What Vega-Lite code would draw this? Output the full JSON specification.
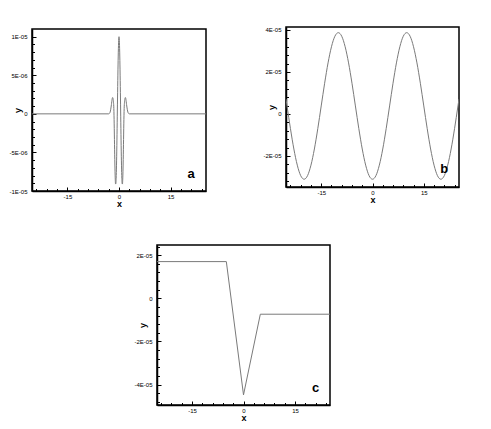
{
  "$schema": "https://vega.github.io/schema/vega-lite/v6.json",
  "padding": {"left": 8, "top": 26, "right": 5, "bottom": 5},
  "background": "white",
  "config": {
    "font": "Liberation Sans",
    "view": {"stroke": "black", "strokeWidth": 1.5},
    "axis": {"grid": false, "labelFont": "Liberation Sans", "labelFontSize": 6, "labelColor": "black", "tickColor": "black", "domainColor": "black", "domainWidth": 1.5, "tickWidth": 1, "titleFont": "Liberation Sans", "titleFontSize": 9, "titleFontWeight": "bold", "titleColor": "black"}
  },
  "datasets": {
    "ca": [
      {"x": -25.3, "y": 0}, {"x": -3.0, "y": 0}, {"x": -2.8, "y": 0.05e-6}, {"x": -2.6, "y": 0.2e-6}, {"x": -2.4, "y": 0.6e-6}, {"x": -2.2, "y": 1.2e-6}, {"x": -2.0, "y": 1.9e-6}, {"x": -1.9, "y": 2.1e-6}, {"x": -1.8, "y": 2.1e-6}, {"x": -1.7, "y": 1.9e-6}, {"x": -1.6, "y": 1.5e-6}, {"x": -1.5, "y": 0.7e-6}, {"x": -1.4, "y": -1.3e-6}, {"x": -1.3, "y": -4.0e-6}, {"x": -1.2, "y": -6.5e-6}, {"x": -1.1, "y": -8.3e-6}, {"x": -1.0, "y": -9.1e-6}, {"x": -0.9, "y": -9.0e-6}, {"x": -0.8, "y": -8.0e-6}, {"x": -0.7, "y": -6.1e-6}, {"x": -0.6, "y": -3.4e-6}, {"x": -0.5, "y": -0.3e-6}, {"x": -0.4, "y": 2.8e-6}, {"x": -0.3, "y": 5.7e-6}, {"x": -0.2, "y": 8.0e-6}, {"x": -0.1, "y": 9.5e-6}, {"x": 0, "y": 1.0e-5},
      {"x": 0.1, "y": 9.5e-6}, {"x": 0.2, "y": 8.0e-6}, {"x": 0.3, "y": 5.7e-6}, {"x": 0.4, "y": 2.8e-6}, {"x": 0.5, "y": -0.3e-6}, {"x": 0.6, "y": -3.4e-6}, {"x": 0.7, "y": -6.1e-6}, {"x": 0.8, "y": -8.0e-6}, {"x": 0.9, "y": -9.0e-6}, {"x": 1.0, "y": -9.1e-6}, {"x": 1.1, "y": -8.3e-6}, {"x": 1.2, "y": -6.5e-6}, {"x": 1.3, "y": -4.0e-6}, {"x": 1.4, "y": -1.3e-6}, {"x": 1.5, "y": 0.7e-6}, {"x": 1.6, "y": 1.5e-6}, {"x": 1.7, "y": 1.9e-6}, {"x": 1.8, "y": 2.1e-6}, {"x": 1.9, "y": 2.1e-6}, {"x": 2.0, "y": 1.9e-6}, {"x": 2.2, "y": 1.2e-6}, {"x": 2.4, "y": 0.6e-6}, {"x": 2.6, "y": 0.2e-6}, {"x": 2.8, "y": 0.05e-6}, {"x": 3.0, "y": 0}, {"x": 25.3, "y": 0}
    ],
    "cb": [
      {"x": -25.3, "y": 0.71e-5}, {"x": -25, "y": 0.38e-5}, {"x": -24, "y": -0.70e-5}, {"x": -23, "y": -1.67e-5}, {"x": -22, "y": -2.44e-5}, {"x": -21, "y": -2.94e-5}, {"x": -20, "y": -3.11e-5}, {"x": -19, "y": -2.94e-5}, {"x": -18, "y": -2.44e-5}, {"x": -17, "y": -1.67e-5}, {"x": -16, "y": -0.70e-5}, {"x": -15, "y": 0.38e-5}, {"x": -14, "y": 1.46e-5}, {"x": -13, "y": 2.43e-5}, {"x": -12, "y": 3.20e-5}, {"x": -11, "y": 3.70e-5}, {"x": -10, "y": 3.87e-5}, {"x": -9, "y": 3.70e-5}, {"x": -8, "y": 3.20e-5}, {"x": -7, "y": 2.43e-5}, {"x": -6, "y": 1.46e-5}, {"x": -5, "y": 0.38e-5}, {"x": -4, "y": -0.70e-5}, {"x": -3, "y": -1.67e-5}, {"x": -2, "y": -2.44e-5}, {"x": -1, "y": -2.94e-5}, {"x": 0, "y": -3.11e-5},
      {"x": 1, "y": -2.94e-5}, {"x": 2, "y": -2.44e-5}, {"x": 3, "y": -1.67e-5}, {"x": 4, "y": -0.70e-5}, {"x": 5, "y": 0.38e-5}, {"x": 6, "y": 1.46e-5}, {"x": 7, "y": 2.43e-5}, {"x": 8, "y": 3.20e-5}, {"x": 9, "y": 3.70e-5}, {"x": 10, "y": 3.87e-5}, {"x": 11, "y": 3.70e-5}, {"x": 12, "y": 3.20e-5}, {"x": 13, "y": 2.43e-5}, {"x": 14, "y": 1.46e-5}, {"x": 15, "y": 0.38e-5}, {"x": 16, "y": -0.70e-5}, {"x": 17, "y": -1.67e-5}, {"x": 18, "y": -2.44e-5}, {"x": 19, "y": -2.94e-5}, {"x": 20, "y": -3.11e-5}, {"x": 21, "y": -2.94e-5}, {"x": 22, "y": -2.44e-5}, {"x": 23, "y": -1.67e-5}, {"x": 24, "y": -0.70e-5}, {"x": 25, "y": 0.38e-5}, {"x": 25.3, "y": 0.71e-5}
    ],
    "cc": [
      {"x": -25.2, "y": 1.70e-5}, {"x": -5.0, "y": 1.70e-5}, {"x": 0, "y": -4.48e-5}, {"x": 4.9, "y": -0.74e-5}, {"x": 25.2, "y": -0.74e-5}
    ]
  },
  "spacing": 34,
  "vconcat": [
    {
      "spacing": 52,
      "hconcat": [
        {
          "spacing": 0,
          "vconcat": [
            {"width": 174, "height": 1, "data": {"values": [{"k": 1}]}, "mark": {"type": "text", "text": "", "fontSize": 1}, "view": {"stroke": null}},
            {
              "width": 174,
              "height": 162,
              "resolve": {"axis": {"x": "independent", "y": "independent"}},
              "layer": [
                {
                  "data": {"name": "ca"},
                  "mark": {"type": "line", "color": "#7a7a7a", "strokeWidth": 1, "interpolate": "monotone", "clip": true},
                  "encoding": {
                    "x": {"field": "x", "type": "quantitative", "scale": {"domain": [-25.3, 25.3], "nice": false, "zero": false},
                      "axis": {"values": [-15, 0, 15], "labelExpr": "datum.value < 0 ? '-15' : datum.value > 0 ? '15' : '0'", "title": "x", "tickSize": -4, "labelPadding": 6.5, "titlePadding": 0}},
                    "y": {"field": "y", "type": "quantitative", "scale": {"domain": [-1e-5, 1.1e-5], "nice": false, "zero": false},
                      "axis": {"values": [-1e-5, -5e-6, 0, 5e-6, 1e-5], "labelExpr": "datum.value == 0 ? '0' : datum.value > 0 ? (datum.value > 7e-6 ? '1E-05' : '5E-06') : (datum.value < -7e-6 ? '-1E-05' : '-5E-06')", "title": "y", "titleX": -15, "titleBaseline": "middle", "tickSize": -4, "labelPadding": 9}}
                  }
                },
                {
                  "data": {"values": [{"x": 21, "y": -7.8e-6, "t": "a"}]},
                  "mark": {"type": "text", "fontSize": 13, "fontWeight": "bold", "font": "Liberation Sans", "color": "black", "baseline": "middle", "align": "center"},
                  "encoding": {
                    "x": {"field": "x", "type": "quantitative", "axis": null},
                    "y": {"field": "y", "type": "quantitative", "axis": null},
                    "text": {"field": "t"}
                  }
                },
                {
                  "data": {"name": "ca"},
                  "mark": {"type": "point", "opacity": 0},
                  "encoding": {
                    "x": {"field": "x", "type": "quantitative", "axis": {"orient": "bottom", "values": [-24, -21, -18, -12, -9, -6, -3, 3, 6, 9, 12, 18, 21, 24], "labels": false, "domain": false, "title": null, "tickSize": -2.5}},
                    "y": {"field": "y", "type": "quantitative", "axis": {"orient": "left", "values": [-9e-6, -8e-6, -7e-6, -6e-6, -4e-6, -3e-6, -2e-6, -1e-6, 1e-6, 2e-6, 3e-6, 4e-6, 6e-6, 7e-6, 8e-6, 9e-6], "labels": false, "domain": false, "title": null, "tickSize": -2.5}}
                  }
                }
              ]
            }
          ]
        },
        {
          "width": 173,
          "height": 160,
          "resolve": {"axis": {"x": "independent", "y": "independent"}},
          "layer": [
            {
              "data": {"name": "cb"},
              "mark": {"type": "line", "color": "#7a7a7a", "strokeWidth": 1, "interpolate": "monotone", "clip": true},
              "encoding": {
                "x": {"field": "x", "type": "quantitative", "scale": {"domain": [-25.3, 25.3], "nice": false, "zero": false},
                  "axis": {"values": [-15, 0, 15], "labelExpr": "datum.value < 0 ? '-15' : datum.value > 0 ? '15' : '0'", "title": "x", "tickSize": -4, "labelPadding": 6.5, "titlePadding": 0}},
                "y": {"field": "y", "type": "quantitative", "scale": {"domain": [-3.48e-5, 4.14e-5], "nice": false, "zero": false},
                  "axis": {"values": [-2e-5, 0, 2e-5, 4e-5], "labelExpr": "datum.value == 0 ? '0' : datum.value < 0 ? '-2E-05' : datum.value > 3e-5 ? '4E-05' : '2E-05'", "title": "y", "titleX": -15, "titleBaseline": "middle", "tickSize": -4, "labelPadding": 9}}
              }
            },
            {
              "data": {"values": [{"x": 21, "y": -2.62e-5, "t": "b"}]},
              "mark": {"type": "text", "fontSize": 13, "fontWeight": "bold", "font": "Liberation Sans", "color": "black", "baseline": "middle", "align": "center"},
              "encoding": {
                "x": {"field": "x", "type": "quantitative", "axis": null},
                "y": {"field": "y", "type": "quantitative", "axis": null},
                "text": {"field": "t"}
              }
            },
            {
              "data": {"name": "cb"},
              "mark": {"type": "point", "opacity": 0},
              "encoding": {
                "x": {"field": "x", "type": "quantitative", "axis": {"orient": "bottom", "values": [-24, -21, -18, -12, -9, -6, -3, 3, 6, 9, 12, 18, 21, 24], "labels": false, "domain": false, "title": null, "tickSize": -2.5}},
                "y": {"field": "y", "type": "quantitative", "axis": {"orient": "left", "values": [-3.2e-5, -2.8e-5, -2.4e-5, -1.6e-5, -1.2e-5, -0.8e-5, -0.4e-5, 0.4e-5, 0.8e-5, 1.2e-5, 1.6e-5, 2.4e-5, 2.8e-5, 3.2e-5, 3.6e-5], "labels": false, "domain": false, "title": null, "tickSize": -2.5}}
              }
            }
          ]
        }
      ]
    },
    {
      "spacing": 100,
      "hconcat": [
        {"width": 1, "height": 160, "data": {"values": [{"k": 1}]}, "mark": {"type": "text", "text": "", "fontSize": 1}, "view": {"stroke": null}},
        {
          "width": 173,
          "height": 160,
          "resolve": {"axis": {"x": "independent", "y": "independent"}},
          "layer": [
            {
              "data": {"name": "cc"},
              "mark": {"type": "line", "color": "#7a7a7a", "strokeWidth": 1, "clip": true},
              "encoding": {
                "x": {"field": "x", "type": "quantitative", "scale": {"domain": [-25.2, 25.2], "nice": false, "zero": false},
                  "axis": {"values": [-15, 0, 15], "labelExpr": "datum.value < 0 ? '-15' : datum.value > 0 ? '15' : '0'", "title": "x", "tickSize": -4, "labelPadding": 6.5, "titlePadding": 0}},
                "y": {"field": "y", "type": "quantitative", "scale": {"domain": [-4.95e-5, 2.47e-5], "nice": false, "zero": false},
                  "axis": {"values": [-4e-5, -2e-5, 0, 2e-5], "labelExpr": "datum.value == 0 ? '0' : datum.value > 0 ? '2E-05' : datum.value < -3e-5 ? '-4E-05' : '-2E-05'", "title": "y", "titleX": -15, "titleBaseline": "middle", "tickSize": -4, "labelPadding": 9}}
              }
            },
            {
              "data": {"values": [{"x": 21, "y": -4.16e-5, "t": "c"}]},
              "mark": {"type": "text", "fontSize": 13, "fontWeight": "bold", "font": "Liberation Sans", "color": "black", "baseline": "middle", "align": "center"},
              "encoding": {
                "x": {"field": "x", "type": "quantitative", "axis": null},
                "y": {"field": "y", "type": "quantitative", "axis": null},
                "text": {"field": "t"}
              }
            },
            {
              "data": {"name": "cc"},
              "mark": {"type": "point", "opacity": 0},
              "encoding": {
                "x": {"field": "x", "type": "quantitative", "axis": {"orient": "bottom", "values": [-24, -21, -18, -12, -9, -6, -3, 3, 6, 9, 12, 18, 21, 24], "labels": false, "domain": false, "title": null, "tickSize": -2.5}},
                "y": {"field": "y", "type": "quantitative", "axis": {"orient": "left", "values": [-4.8e-5, -4.4e-5, -3.6e-5, -3.2e-5, -2.8e-5, -2.4e-5, -1.6e-5, -1.2e-5, -0.8e-5, -0.4e-5, 0.4e-5, 0.8e-5, 1.2e-5, 1.6e-5, 2.4e-5], "labels": false, "domain": false, "title": null, "tickSize": -2.5}}
              }
            }
          ]
        }
      ]
    }
  ]
}
